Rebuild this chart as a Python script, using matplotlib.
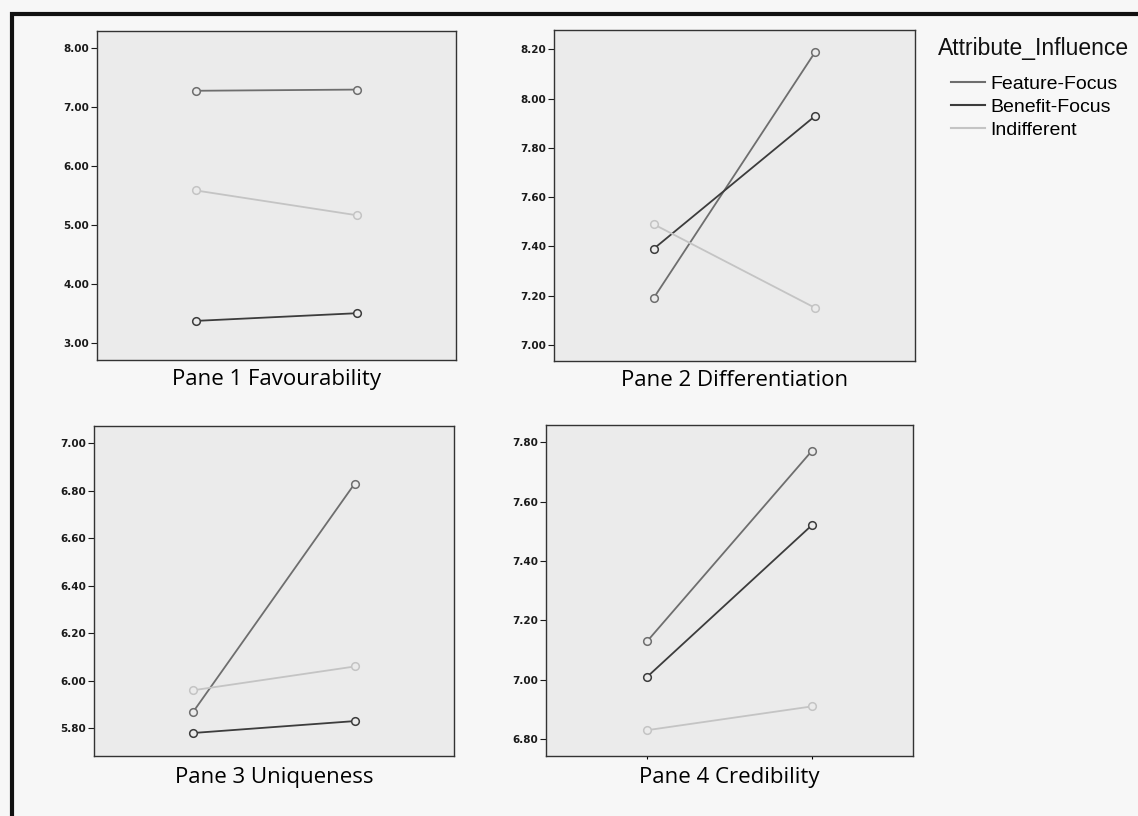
import matplotlib
matplotlib.use("Agg")
import matplotlib.pyplot as plt
from matplotlib.lines import Line2D
from matplotlib.patches import Rectangle
from matplotlib.ticker import FormatStrFormatter

groups = ["Feature-Focus", "Benefit-Focus", "Indifferent"]
colors = ["#6e6e6e", "#3c3c3c", "#c4c4c4"]
levels = [0, 1]

pane_titles = ["Pane 1 Favourability", "Pane 2 Differentiation",
               "Pane 3 Uniqueness", "Pane 4 Credibility"]

favourability = {"Feature-Focus": [7.28, 7.30],
                 "Benefit-Focus": [3.38, 3.51],
                 "Indifferent": [5.59, 5.17]}
differentiation = {"Feature-Focus": [7.19, 8.19],
                   "Benefit-Focus": [7.39, 7.93],
                   "Indifferent": [7.49, 7.15]}
uniqueness = {"Feature-Focus": [5.87, 6.83],
              "Benefit-Focus": [5.78, 5.83],
              "Indifferent": [5.96, 6.06]}
credibility = {"Feature-Focus": [7.13, 7.77],
               "Benefit-Focus": [7.01, 7.52],
               "Indifferent": [6.83, 6.91]}
pane_data = [favourability, differentiation, uniqueness, credibility]

yticks = [[3, 4, 5, 6, 7, 8],
          [7.0, 7.2, 7.4, 7.6, 7.8, 8.0, 8.2],
          [5.8, 6.0, 6.2, 6.4, 6.6, 6.8, 7.0],
          [6.8, 7.0, 7.2, 7.4, 7.6, 7.8]]
ylims = [(2.717, 8.293), (6.935, 8.278), (5.683, 7.073), (6.743, 7.858)]

W, H = 1138, 816
# axes boxes in pixels: left, top, right, bottom
boxes = [(97, 31, 456, 360), (554, 30, 915, 361),
         (94, 426, 454, 756), (546, 425, 913, 756)]
title_y = [380, 380, 778, 778]

fig = plt.figure(figsize=(W / 100, H / 100), dpi=100, facecolor="#f7f7f7")

for i, (l, t, r, b) in enumerate(boxes):
    ax = fig.add_axes([l / W, 1 - b / H, (r - l) / W, (b - t) / H])
    ax.set_facecolor("#ebebeb")
    for g, c in zip(groups, colors):
        ax.plot(levels, pane_data[i][g], color=c, lw=1.3, marker="o",
                ms=5.5, mfc="#ebebeb", mec=c, mew=1.1)
    ax.set_xlim(-0.616, 1.616)
    ax.set_ylim(*ylims[i])
    ax.set_yticks(yticks[i])
    ax.yaxis.set_major_formatter(FormatStrFormatter("%.2f"))
    ax.tick_params(axis="y", length=4, width=0.8, pad=1.5, labelsize=7.5,
                   colors="#1a1a1a")
    for lab in ax.get_yticklabels():
        lab.set_fontweight("bold")
    if i == 3:
        ax.set_xticks(levels)
        ax.tick_params(axis="x", length=2.5, width=0.8, labelbottom=False)
    else:
        ax.set_xticks([])
    for s in ax.spines.values():
        s.set_color("#333333")
        s.set_linewidth(1.0)
    cx = (l + r) / 2 / W
    fig.text(cx, 1 - title_y[i] / H, pane_titles[i], ha="center", va="center",
             fontsize=16, family="Open Sans", color="#000000")

# legend
fig.text(938 / W, 1 - 48 / H, "Attribute_Influence", ha="left", va="center",
         fontsize=16.5, family="Liberation Sans", color="#111111")
handles = [Line2D([], [], color=c, lw=1.5) for c in colors]
fig.legend(handles, groups, loc="upper left",
           bbox_to_anchor=(951 / W, 1 - 75 / H), frameon=False,
           borderpad=0, borderaxespad=0, handlelength=1.75, handletextpad=0.25,
           labelspacing=0.28, prop={"family": "Liberation Sans", "size": 14})

# outer frame of the scanned figure
fig.patches.append(Rectangle((12 / W, -0.1), 1.2, 1 - 14 / H + 0.1,
                             transform=fig.transFigure, fill=False,
                             edgecolor="#111111", lw=3))

fig.savefig("out.png", dpi=100, facecolor=fig.get_facecolor())
